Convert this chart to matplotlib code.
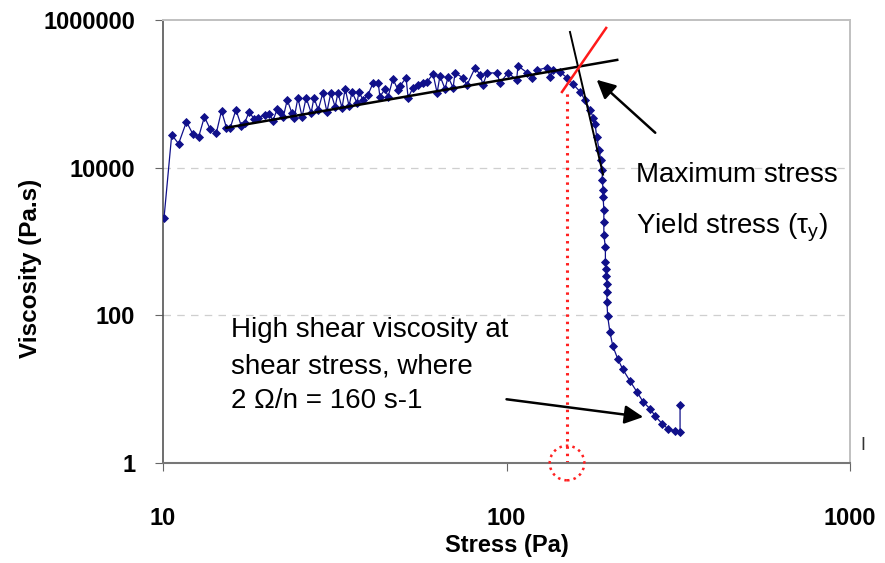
import matplotlib
matplotlib.use("Agg")
import matplotlib.pyplot as plt

plt.rcParams['font.family'] = ['Liberation Sans', 'DejaVu Sans']

# measured flow curve (stress in Pa, viscosity in Pa.s)
stress = [10.07, 10.6, 11.1, 11.7, 12.2, 12.7, 13.2, 13.7, 14.3, 14.8,
          15.3, 15.7, 16.3, 16.9, 17.3, 17.8, 18.4, 18.9, 19.8, 20.4,
          20.9, 21.5, 21.9, 22.4, 23.0, 23.7, 24.1, 24.7, 25.4, 26.1,
          27.0, 27.5, 28.3, 29.2, 30.0, 30.8, 31.7, 32.3, 33.2, 33.9,
          34.8, 35.5, 36.7, 37.2, 38.2, 39.5, 40.9, 42.3, 42.8, 44.3,
          45.2, 46.7, 48.3, 49.0, 51.0, 51.7, 53.4, 55.3, 57.1, 58.7,
          61.1, 62.8, 64.0, 66.2, 67.6, 69.9, 70.8, 74.7, 76.7, 81.0,
          83.8, 85.4, 87.8, 93.8, 95.7, 101, 107, 108, 115, 119,
          123, 131, 134, 137, 143, 150, 156, 164, 169, 175,
          179, 181, 183, 186, 188, 190, 190, 191, 191, 192,
          192, 192, 194, 194, 195, 195, 196, 196, 196, 197,
          200, 204, 211, 218, 229, 240, 250, 262, 271, 284,
          295, 309, 320, 320]
viscosity = [2110, 27900, 21100, 41800, 28800, 26200, 48900, 33700, 29700, 58900,
             34700, 34700, 60800, 36900, 40600, 57100, 45900, 47400, 52000, 53700,
             43200, 62700, 57100, 48900, 83000, 55400, 47400, 88300, 48900, 88300,
             55400, 88300, 60800, 103000, 57100, 103000, 66700, 103000, 64700, 117000,
             68800, 106000, 75600, 106000, 83000, 97000, 141000, 141000, 91100, 117000,
             91100, 159000, 113000, 128000, 165000, 88300, 121000, 132000, 141000, 145000,
             186000, 103000, 175000, 117000, 170000, 121000, 192000, 165000, 132000, 225000,
             181000, 132000, 192000, 192000, 141000, 192000, 155000, 239000, 192000, 165000,
             211000, 225000, 170000, 211000, 198000, 165000, 136000, 106000, 83000, 60800,
             47400, 39300, 26200, 17500, 12800, 9400, 6880, 5040, 4060, 2710,
             1860, 1240, 830, 520, 418, 337, 262, 205, 150, 97,
             59, 38, 25.4, 18.6, 12.8, 9.1, 6.7, 5.4, 4.3, 3.4,
             2.9, 2.7, 2.6, 6.1]

# construction lines
fit_x = [15.3, 210]
fit_y = [34700, 288000]
steep_x = [153, 191]
steep_y = [688000, 8040]
red_x = [145, 195]
red_y = [106000, 780000]
yield_stress = 150

fig = plt.figure(figsize=(8.85, 5.63), dpi=100)
ax = fig.add_axes([0.1842, 0.1776, 0.7763, 0.7869])

ax.set_xscale('log')
ax.set_yscale('log')
ax.set_xlim(10, 1000)
ax.set_ylim(1, 1000000)

ax.set_xticks([10, 100, 1000])
ax.set_xticklabels(['10', '100', '1000'])
ax.set_yticks([1, 100, 10000, 1000000])
ax.set_yticklabels(['1', '100', '10000', '1000000'])
ax.minorticks_off()

for y in [100, 10000]:
    ax.axhline(y, color='#cfcfcf', lw=0.9, ls=(0, (6, 5)), zorder=0)

ax.plot(stress, viscosity, color='#10108a', lw=0.9, marker='D', ms=3.9,
        markeredgewidth=0.6, zorder=3)

ax.plot(fit_x, fit_y, color='black', lw=1.8, zorder=4)
ax.plot(steep_x, steep_y, color='black', lw=1.4, zorder=4)
ax.plot(red_x, red_y, color='#ff1a1a', lw=1.8, zorder=5)
ax.plot([yield_stress, yield_stress], [1, red_y[0]], color='#ff2020', lw=2.2,
        ls=(0, (0.8, 1.6)), zorder=2)
ax.scatter([yield_stress], [1], s=620, facecolors='none', edgecolors='#ff2020',
           linewidths=1.8, linestyles=':', clip_on=False, zorder=6)

ax.annotate('', xy=(183, 155000), xytext=(271, 29700),
            arrowprops=dict(arrowstyle='-|>', color='black', lw=1.8,
                            mutation_scale=28, shrinkA=0, shrinkB=0))
ax.annotate('', xy=(250, 4.2), xytext=(100, 7.3),
            arrowprops=dict(arrowstyle='-|>', color='black', lw=1.8,
                            mutation_scale=28, shrinkA=0, shrinkB=0))

ax.text(238, 8040, 'Maximum stress', fontsize=20, va='center', ha='left')
ax.text(238, 1545, r'Yield stress ($\mathregular{\tau_y}$)', fontsize=20,
        va='center', ha='left')
ax.text(15.8, 62.7, 'High shear viscosity at', fontsize=20, va='center', ha='left')
ax.text(15.8, 20.5, 'shear stress, where', fontsize=20, va='center', ha='left')
ax.text(15.8, 6.9, '2 \u03a9/n = 160 s-1', fontsize=20, va='center', ha='left')
ax.text(1.015, 0.04, 'I', transform=ax.transAxes, fontsize=13, va='center',
        ha='left', color='#333333')

for side in ['top', 'right']:
    ax.spines[side].set_color('#c0c0c0')
    ax.spines[side].set_linewidth(1.4)
ax.spines['left'].set_color('#555555')
ax.spines['bottom'].set_color('#777777')
ax.spines['left'].set_linewidth(1.2)
ax.spines['bottom'].set_linewidth(1.5)

ax.tick_params(axis='y', length=6, color='#666666', pad=14, labelsize=17)
ax.tick_params(axis='x', length=6, color='#666666', pad=26, labelsize=17)
for lab in ax.get_xticklabels() + ax.get_yticklabels():
    lab.set_fontweight('bold')

ax.set_xlabel('Stress (Pa)', fontsize=17, fontweight='bold')
ax.set_ylabel('Viscosity (Pa.s)', fontsize=17.5, fontweight='bold')
ax.xaxis.set_label_coords(0.5, -0.16)
ax.yaxis.set_label_coords(-0.176, 0.44)

plt.savefig('out.png', dpi=100)
